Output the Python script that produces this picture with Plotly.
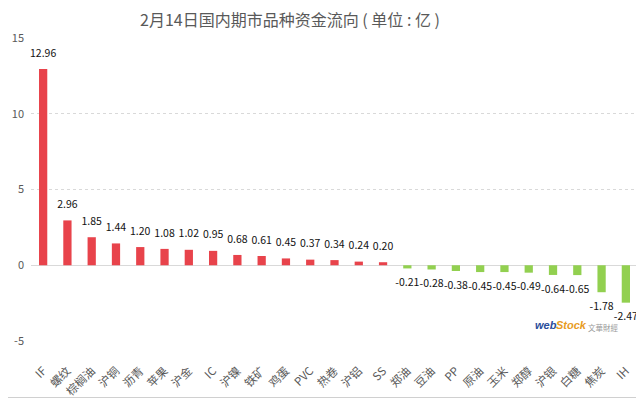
import plotly.graph_objects as go

categories = ["IF", "螺纹", "棕榈油", "沪铜", "沥青", "苹果", "沪金", "IC", "沪镍", "铁矿",
              "鸡蛋", "PVC", "热卷", "沪铝", "SS", "郑油", "豆油", "PP", "原油", "玉米",
              "郑醇", "沪银", "白糖", "焦炭", "IH"]
values = [12.96, 2.96, 1.85, 1.44, 1.20, 1.08, 1.02, 0.95, 0.68, 0.61,
          0.45, 0.37, 0.34, 0.24, 0.20, -0.21, -0.28, -0.38, -0.45, -0.45,
          -0.49, -0.64, -0.65, -1.78, -2.47]
y_ticks = [-5, 0, 5, 10, 15]
title_text = "2月14日国内期市品种资金流向 ( 单位 : 亿 )"

RED = "#E8434B"
GREEN = "#92D050"
colors = [RED if v >= 0 else GREEN for v in values]

FONT = "Noto Sans CJK SC, Microsoft YaHei, sans-serif"

fig = go.Figure()
fig.add_trace(go.Bar(
    x=categories, y=values,
    marker=dict(color=colors, line=dict(width=0)),
    width=0.34, hoverinfo="x+y",
))
fig.add_trace(go.Scatter(
    x=categories, y=values, mode="markers+text",
    marker=dict(size=14, color="rgba(0,0,0,0)"),
    text=[f"{v:.2f}" for v in values],
    textposition=["top center" if v >= 0 else "bottom center" for v in values],
    textfont=dict(size=10.5, color="#111111", family=FONT),
    cliponaxis=False, hoverinfo="skip",
))

# page body has an 8px default margin: compensate so the chart lands where intended
OFF = 8
W, H = 644 - OFF, 398 - OFF
ml, mr, mt, mb = 31 - OFF, 6, 38 - OFF, 57
pw, ph = W - ml - mr, H - mt - mb

fig.update_layout(
    width=W, height=H,
    margin=dict(l=ml, r=mr, t=mt, b=mb, autoexpand=False),
    paper_bgcolor="white", plot_bgcolor="white",
    showlegend=False,
    title=dict(text=title_text, x=(290 - OFF) / W, xanchor="center",
               y=1 - (20 - OFF) / H, yanchor="middle",
               font=dict(size=16, color="#595959", family=FONT)),
    xaxis=dict(tickangle=-45, tickfont=dict(size=11.5, color="#595959", family=FONT),
               showgrid=False, showline=False, ticks="", automargin=False,
               ticklabelstandoff=20,
               range=[-0.5, len(categories) - 0.5]),
    yaxis=dict(range=[-5, 15], tickvals=y_ticks, ticktext=[str(t) for t in y_ticks],
               tickfont=dict(size=11, color="#595959", family=FONT),
               showgrid=True, gridcolor="#D9D9D9", griddash="dot", gridwidth=1,
               zeroline=True, zerolinecolor="#D9D9D9", zerolinewidth=1,
               showline=False, ticks="", automargin=False, ticklabelstandoff=6),
    shapes=[
        dict(type="line", xref="paper", yref="paper",
             x0=1 + (mr - 0.5) / pw, x1=1 + (mr - 0.5) / pw,
             y0=(-mb + 0.5) / ph, y1=1 + mt / ph,
             line=dict(color="#D0D0D0", width=1)),
        dict(type="line", xref="paper", yref="paper",
             x0=-ml / pw, x1=1 + mr / pw,
             y0=(-mb + 0.5) / ph, y1=(-mb + 0.5) / ph,
             line=dict(color="#D0D0D0", width=1)),
    ],
    annotations=[
        dict(text="<b><i>web</i></b>", xref="paper", yref="paper",
             x=(533 - 31) / pw, y=1 - (325 - 38) / ph, xanchor="left", yanchor="middle",
             showarrow=False, font=dict(size=11, color="#2A4D9B", family="Arial")),
        dict(text="<b><i>Stock</i></b>", xref="paper", yref="paper",
             x=(554 - 31) / pw, y=1 - (325 - 38) / ph, xanchor="left", yanchor="middle",
             showarrow=False, font=dict(size=11, color="#E89B1E", family="Arial")),
        dict(text="文華財經", xref="paper", yref="paper",
             x=(586 - 31) / pw, y=1 - (327 - 38) / ph, xanchor="left", yanchor="middle",
             showarrow=False, font=dict(size=7.5, color="#9A9A9A", family=FONT)),
    ],
)

fig.write_html("out.html")
